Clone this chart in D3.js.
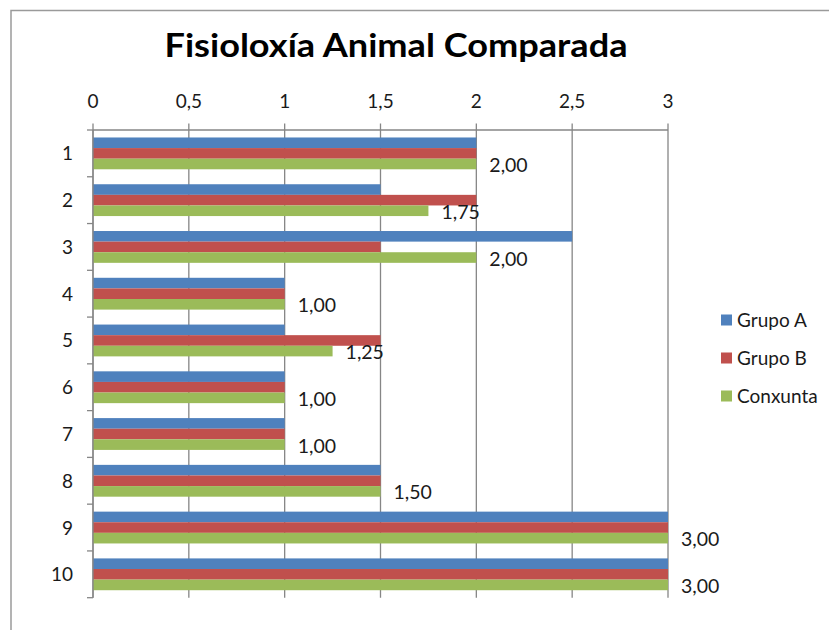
<!DOCTYPE html>
<html>
<head>
<meta charset="utf-8">
<script src="https://cdn.jsdelivr.net/npm/d3@7"></script>
<style>
  html, body { margin: 0; padding: 0; background: #fff; }
  svg { display: block; }
  text { font-family: Lato, "Open Sans", sans-serif; fill: #1a1a1a; }
</style>
</head>
<body>
<svg id="chart" width="829" height="630"></svg>
<script>
const title = "Fisioloxía Animal Comparada";
const categories = ["1","2","3","4","5","6","7","8","9","10"];
const seriesNames = ["Grupo A","Grupo B","Conxunta"];
const grupoA   = [2, 1.5, 2.5, 1, 1,   1, 1, 1.5, 3, 3];
const grupoB   = [2, 2,   1.5, 1, 1.5, 1, 1, 1.5, 3, 3];
const conxunta = [2, 1.75, 2,  1, 1.25, 1, 1, 1.5, 3, 3];
const xTicks = [0, 0.5, 1, 1.5, 2, 2.5, 3];
const colors = ["#4F81BD", "#C0504D", "#9BBB59"];

const seriesValues = [grupoA, grupoB, conxunta];
const fmtTick = d => String(d).replace(".", ",");
const fmtLabel = d => d.toFixed(2).replace(".", ",");

const svg = d3.select("#chart");

// outer frame
svg.append("rect").attr("x", 11).attr("y", 10.5).attr("width", 840).attr("height", 660)
  .attr("fill", "none").attr("stroke", "#9a9a9a").attr("stroke-width", 1.5);

// title
svg.append("text").attr("x", 396).attr("y", 57).attr("text-anchor", "middle")
  .attr("font-size", 33).attr("font-weight", 700)
  .attr("textLength", 463).attr("lengthAdjust", "spacingAndGlyphs")
  .style("fill", "#000").text(title);

const x = d3.scaleLinear().domain([0, 3]).range([93, 668]);
const y0 = d3.scaleBand().domain(categories).range([130, 597.7]).padding(0);
const y1 = d3.scaleBand().domain(seriesNames).range([0, y0.bandwidth()]).paddingInner(0).paddingOuter(0.705);

const gridColor = "#868686";

// vertical gridlines (with top tick extension)
svg.append("g").selectAll("line").data(xTicks).join("line")
  .attr("x1", d => x(d)).attr("x2", d => x(d))
  .attr("y1", 123.5).attr("y2", 597.7)
  .attr("stroke", gridColor).attr("stroke-width", 1.3);

// top axis line
svg.append("line").attr("x1", x(0)).attr("x2", x(3)).attr("y1", 130).attr("y2", 130)
  .attr("stroke", gridColor).attr("stroke-width", 1.3);

// tick labels
svg.append("g").selectAll("text").data(xTicks).join("text")
  .attr("x", d => x(d)).attr("y", 108).attr("text-anchor", "middle")
  .attr("font-size", 19).text(fmtTick);

// bars
const rows = categories.map((c, i) => ({ c, vals: seriesValues.map((s, k) => ({ name: seriesNames[k], v: s[i], k })) }));
const g = svg.append("g");
rows.forEach(r => {
  g.append("g").selectAll("rect").data(r.vals).join("rect")
    .attr("x", x(0))
    .attr("y", d => y0(r.c) + y1(d.name))
    .attr("width", d => x(d.v) - x(0))
    .attr("height", y1.bandwidth())
    .attr("fill", d => colors[d.k]);
});

// left axis line and category ticks
svg.append("line").attr("x1", x(0)).attr("x2", x(0)).attr("y1", 130).attr("y2", 597.7)
  .attr("stroke", gridColor).attr("stroke-width", 1.3);
const boundaries = categories.map(c => y0(c)).concat([y0.range()[1]]);
svg.append("g").selectAll("line").data(boundaries).join("line")
  .attr("x1", x(0) - 6).attr("x2", x(0)).attr("y1", d => d).attr("y2", d => d)
  .attr("stroke", gridColor).attr("stroke-width", 1.3);

// category labels
svg.append("g").selectAll("text").data(categories).join("text")
  .attr("x", 73).attr("y", d => y0(d) + y0.bandwidth() / 2 + 7)
  .attr("text-anchor", "end").attr("font-size", 19).text(d => d);

// data labels for Conxunta
svg.append("g").selectAll("text").data(categories).join("text")
  .attr("x", (d, i) => x(conxunta[i]) + 13)
  .attr("y", d => y0(d) + y1("Conxunta") + y1.bandwidth() / 2 + 8)
  .attr("font-size", 19.5).text((d, i) => fmtLabel(conxunta[i]));

// legend
const legend = svg.append("g");
seriesNames.forEach((n, k) => {
  const cy = 320 + k * 38;
  legend.append("rect").attr("x", 721).attr("y", cy - 5.5).attr("width", 11).attr("height", 11).attr("fill", colors[k]);
  legend.append("text").attr("x", 737).attr("y", cy + 7).attr("font-size", 19).text(n);
});
</script>
</body>
</html>
